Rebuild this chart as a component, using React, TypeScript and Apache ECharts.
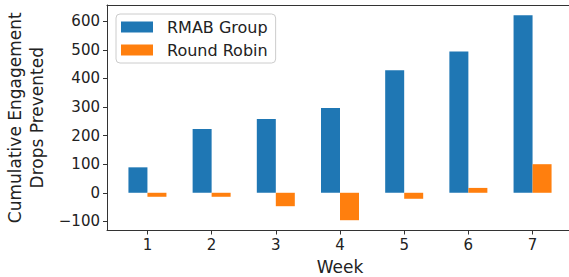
import React, { useEffect, useRef } from "react";
import * as echarts from "echarts";

const weeks = [1, 2, 3, 4, 5, 6, 7];
const rmabGroup = [89, 223, 258, 297, 429, 494, 621];
const roundRobin = [-14, -14, -47, -96, -21, 17, 100];
const yTicks = [-100, 0, 100, 200, 300, 400, 500, 600];

const FONT = "DejaVu Sans";

export default function App() {
  const ref = useRef<HTMLDivElement>(null);
  useEffect(() => {
    if (!ref.current) return;
    const chart = echarts.init(ref.current, null, { renderer: "svg" });
    chart.setOption({
      animation: false,
      textStyle: { fontFamily: FONT },
      grid: {
        left: 107,
        top: 5,
        bottom: 46.5,
        right: -4,
        containLabel: false,
        outerBoundsMode: "none",
      },
      legend: {
        left: 116,
        top: 14,
        orient: "vertical",
        itemWidth: 32,
        itemHeight: 11,
        itemGap: 7,
        padding: [5, 8, 5, 5],
        backgroundColor: "rgba(255,255,255,0.8)",
        borderColor: "#ccc",
        borderWidth: 1,
        borderRadius: 4,
        icon: "rect",
        textStyle: {
          fontFamily: FONT,
          fontSize: 16,
          color: "#222",
          lineHeight: 16,
          padding: [0, 0, 0, 9],
        },
        data: ["RMAB Group", "Round Robin"],
      },
      xAxis: [
        {
          type: "value",
          min: 0.37,
          max: 7.63,
          name: "Week",
          nameLocation: "middle",
          nameGap: 28,
          nameTextStyle: { fontFamily: FONT, fontSize: 17, color: "#222" },
          axisLine: { show: true, onZero: false, lineStyle: { color: "#333", width: 1 } },
          axisTick: {
            show: true,
            length: 4,
            lineStyle: { color: "#333" },
            customValues: weeks,
          },
          axisLabel: {
            fontFamily: FONT,
            fontSize: 15,
            color: "#222",
            margin: 7,
            customValues: weeks,
          },
          splitLine: { show: false },
        },
        {
          type: "value",
          position: "top",
          min: 0.37,
          max: 7.63,
          axisLine: { show: true, onZero: false, lineStyle: { color: "#333", width: 1.2 } },
          axisTick: { show: false },
          axisLabel: { show: false },
          splitLine: { show: false },
        },
      ],
      yAxis: {
        type: "value",
        min: -132,
        max: 657,
        name: "Cumulative Engagement\nDrops Prevented",
        nameLocation: "middle",
        nameGap: 58,
        nameRotate: 90,
        nameTextStyle: {
          fontFamily: FONT,
          fontSize: 17,
          color: "#222",
          lineHeight: 22,
          align: "center",
        },
        axisLine: { show: true, onZero: false, lineStyle: { color: "#333", width: 1 } },
        axisTick: {
          show: true,
          length: 4,
          lineStyle: { color: "#333" },
          customValues: yTicks,
        },
        axisLabel: {
          fontFamily: FONT,
          fontSize: 15,
          color: "#222",
          margin: 7,
          customValues: yTicks,
          formatter: (v: number) => (v < 0 ? "\u2212" + Math.abs(v) : String(v)),
        },
        splitLine: { show: false },
      },
      series: [
        {
          name: "RMAB Group",
          type: "bar",
          barWidth: 19,
          barGap: "0%",
          itemStyle: { color: "#1f77b4" },
          data: weeks.map((w, i) => [w, rmabGroup[i]]),
        },
        {
          name: "Round Robin",
          type: "bar",
          barWidth: 19,
          barGap: "0%",
          itemStyle: { color: "#ff7f0e" },
          data: weeks.map((w, i) => [w, roundRobin[i]]),
        },
      ],
    });
    return () => chart.dispose();
  }, []);
  return (
    <div
      ref={ref}
      style={{ position: "absolute", left: 0, top: 0, width: 569, height: 277 }}
    />
  );
}
